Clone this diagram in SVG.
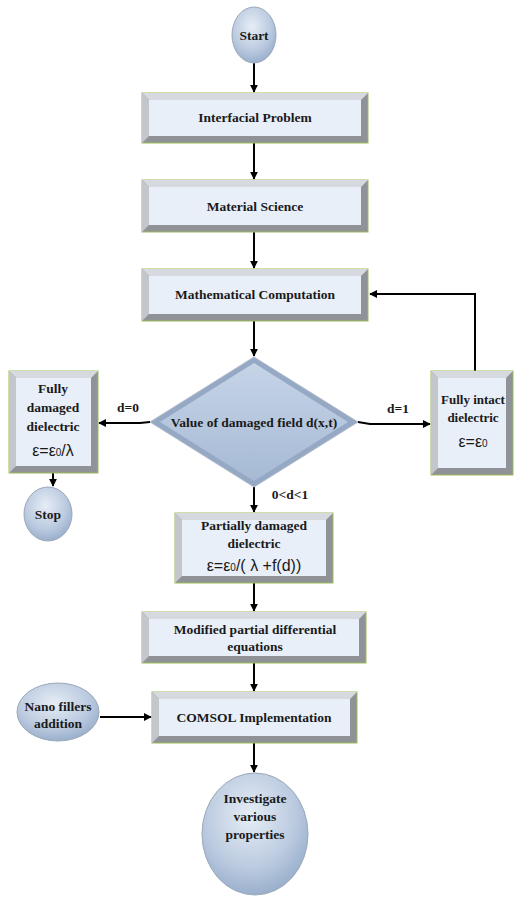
<svg xmlns="http://www.w3.org/2000/svg" width="515" height="898" viewBox="0 0 515 898">
<defs>
<radialGradient id="gCircle" cx="0.45" cy="0.35" r="0.7">
<stop offset="0" stop-color="#e6edf6"/>
<stop offset="0.6" stop-color="#bccbe0"/>
<stop offset="1" stop-color="#93aac8"/>
</radialGradient>
<linearGradient id="gDiamond" x1="0" y1="0" x2="0" y2="1">
<stop offset="0" stop-color="#c6d4e7"/>
<stop offset="1" stop-color="#a6bad5"/>
</linearGradient>
<marker id="arr" viewBox="0 0 10 10" refX="9" refY="5" markerWidth="8" markerHeight="8" markerUnits="userSpaceOnUse" orient="auto">
<path d="M0,0 L10,5 L0,10 z" fill="#000"/>
</marker>
</defs>
<style>
.t{font-family:"Liberation Serif","Times New Roman",serif;font-weight:bold;font-size:13.5px;fill:#1a1a1a;text-anchor:middle}
.e{font-family:"Liberation Sans",Arial,sans-serif;font-size:16px;fill:#1a1a1a;text-anchor:middle}
.sub{font-size:10px}
.outer{fill:#8f9296;stroke:#9bbb59;stroke-width:1}
.bevT{fill:#d6d9dd}
.bevL{fill:#c3c6ca}
.face{fill:#e8eff8}
.circ{fill:url(#gCircle);stroke:#9aa8b8;stroke-width:1}
.ln{stroke:#000;stroke-width:2;fill:none}
</style>

<g id="connectors">
<line class="ln" x1="254" y1="63" x2="254" y2="92" marker-end="url(#arr)"/>
<line class="ln" x1="254" y1="143" x2="254" y2="179" marker-end="url(#arr)"/>
<line class="ln" x1="254" y1="232" x2="254" y2="268" marker-end="url(#arr)"/>
<line class="ln" x1="254" y1="321" x2="254" y2="356" marker-end="url(#arr)"/>
<polyline class="ln" points="150,422 140,423 99,423" marker-end="url(#arr)"/>
<polyline class="ln" points="358,422 370,424 430,424" marker-end="url(#arr)"/>
<polyline class="ln" points="475,371 475,294 370,294" marker-end="url(#arr)"/>
<line class="ln" x1="53" y1="473" x2="53" y2="486" marker-end="url(#arr)"/>
<line class="ln" x1="254" y1="487" x2="254" y2="512" marker-end="url(#arr)"/>
<line class="ln" x1="254" y1="583" x2="254" y2="611" marker-end="url(#arr)"/>
<line class="ln" x1="254" y1="663" x2="254" y2="691" marker-end="url(#arr)"/>
<line class="ln" x1="100" y1="717" x2="151" y2="717" marker-end="url(#arr)"/>
<line class="ln" x1="254" y1="743" x2="254" y2="772" marker-end="url(#arr)"/>
<text class="t" x="128" y="412">d=0</text>
<text class="t" x="398" y="413">d=1</text>
<text class="t" x="290" y="499">0&lt;d&lt;1</text>
</g>

<g id="start">
<ellipse class="circ" cx="254" cy="35" rx="22" ry="28"/>
<text class="t" x="254" y="40">Start</text>
</g>

<g id="interfacial">
<rect class="outer" x="142" y="93" width="226" height="50"/>
<polygon class="bevT" points="142,93 368,93 361,100 149,100"/>
<polygon class="bevL" points="142,93 149,100 149,136 142,143"/>
<rect class="face" x="149" y="100" width="212" height="36"/>
<text class="t" x="255" y="122">Interfacial Problem</text>
</g>

<g id="material">
<rect class="outer" x="142" y="180" width="226" height="52"/>
<polygon class="bevT" points="142,180 368,180 361,187 149,187"/>
<polygon class="bevL" points="142,180 149,187 149,225 142,232"/>
<rect class="face" x="149" y="187" width="212" height="38"/>
<text class="t" x="255" y="211">Material Science</text>
</g>

<g id="math">
<rect class="outer" x="142" y="269" width="226" height="52"/>
<polygon class="bevT" points="142,269 368,269 361,276 149,276"/>
<polygon class="bevL" points="142,269 149,276 149,314 142,321"/>
<rect class="face" x="149" y="276" width="212" height="38"/>
<text class="t" x="255" y="299">Mathematical Computation</text>
</g>

<g id="decision">
<polygon points="254,357 358,422 254,487 150,422" fill="#95a9c4" stroke="#b0bccb" stroke-width="1"/>
<polygon points="254,363 348,422 254,481 160,422" fill="url(#gDiamond)"/>
<text class="t" x="254" y="427">Value of damaged field d(x,t)</text>
</g>

<g id="fully-damaged">
<rect class="outer" x="9" y="371" width="89" height="102"/>
<polygon class="bevT" points="9,371 98,371 91,378 16,378"/>
<polygon class="bevL" points="9,371 16,378 16,466 9,473"/>
<rect class="face" x="16" y="378" width="75" height="88"/>
<text class="t" x="53" y="393">Fully</text>
<text class="t" x="53" y="412">damaged</text>
<text class="t" x="53" y="431">dielectric</text>
<text class="e" x="53" y="456">ε=ε<tspan class="sub">0</tspan>/λ</text>
</g>

<g id="fully-intact">
<rect class="outer" x="431" y="371" width="82" height="104"/>
<polygon class="bevT" points="431,371 513,371 506,378 438,378"/>
<polygon class="bevL" points="431,371 438,378 438,468 431,475"/>
<rect class="face" x="438" y="378" width="68" height="90"/>
<text class="t" x="473" y="404" style="font-size:13px">Fully intact</text>
<text class="t" x="473" y="422" style="font-size:13px">dielectric</text>
<text class="e" x="473" y="447">ε=ε<tspan class="sub">0</tspan></text>
</g>

<g id="stop">
<ellipse class="circ" cx="48" cy="514" rx="24" ry="27"/>
<text class="t" x="48" y="519">Stop</text>
</g>

<g id="partial">
<rect class="outer" x="175" y="513" width="158" height="70"/>
<polygon class="bevT" points="175,513 333,513 326,520 182,520"/>
<polygon class="bevL" points="175,513 182,520 182,576 175,583"/>
<rect class="face" x="182" y="520" width="144" height="56"/>
<text class="t" x="254" y="530">Partially damaged</text>
<text class="t" x="254" y="548">dielectric</text>
<text class="e" x="254" y="571">ε=ε<tspan class="sub">0</tspan>/( λ +f(d))</text>
</g>

<g id="modified">
<rect class="outer" x="142" y="612" width="224" height="51"/>
<polygon class="bevT" points="142,612 366,612 359,619 149,619"/>
<polygon class="bevL" points="142,612 149,619 149,656 142,663"/>
<rect class="face" x="149" y="619" width="210" height="37"/>
<text class="t" x="255" y="634">Modified partial differential</text>
<text class="t" x="255" y="651">equations</text>
</g>

<g id="comsol">
<rect class="outer" x="152" y="692" width="205" height="51"/>
<polygon class="bevT" points="152,692 357,692 350,699 159,699"/>
<polygon class="bevL" points="152,692 159,699 159,736 152,743"/>
<rect class="face" x="159" y="699" width="191" height="37"/>
<text class="t" x="254" y="722">COMSOL Implementation</text>
</g>

<g id="nano">
<ellipse class="circ" cx="58" cy="712" rx="41" ry="29"/>
<text class="t" x="58" y="711">Nano fillers</text>
<text class="t" x="58" y="728">addition</text>
</g>

<g id="investigate">
<ellipse class="circ" cx="255" cy="834" rx="53" ry="61"/>
<text class="t" x="255" y="803">Investigate</text>
<text class="t" x="255" y="821">various</text>
<text class="t" x="255" y="839">properties</text>
</g>
</svg>
